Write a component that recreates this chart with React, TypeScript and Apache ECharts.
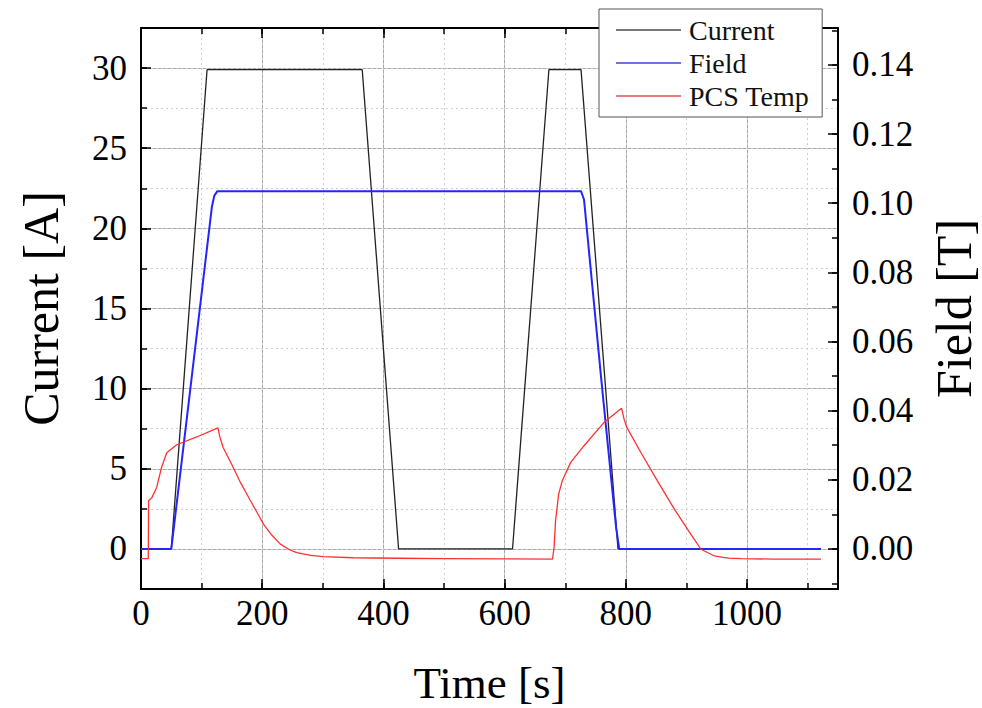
import React, { useEffect, useRef } from "react";
import * as echarts from "echarts";

// ---- Data ----
const seriesNames = ["Current", "Field", "PCS Temp"];

// Current [A] vs time [s]
const currentTime = [0, 50, 109, 365, 425, 613, 673, 726, 787, 1122];
const currentValues = [0, 0, 29.9, 29.9, 0, 0, 29.9, 29.9, 0, 0];

// Field [T] vs time [s]
const fieldTime = [0, 50, 83, 110, 117, 121, 126, 726, 731, 760, 784, 789, 1122];
const fieldValues = [0, 0, 0.0487, 0.0887, 0.099, 0.1022, 0.1035, 0.1035, 0.101, 0.048, 0.006, 0, 0];

// PCS Temp (plotted on the left scale) vs time [s]
const tempTime = [
  0, 12, 12.5, 18, 26, 34, 42.5, 49, 59, 93, 127, 130, 135.5, 150, 164, 180, 197, 202, 216, 230, 245, 257, 280, 301, 350, 423, 500, 600, 679,
  681.5, 684, 689, 695, 709, 731, 764, 793, 797, 801.6, 825, 852, 880, 907, 924, 946, 960, 970, 990, 1045, 1122,
];
const tempValues = [
  -0.6, -0.6, 3.0, 3.2, 3.85, 5.1, 6.0, 6.2, 6.5, 7.0, 7.55, 7.0, 6.33, 5.25, 4.15, 3.05, 1.9, 1.55, 0.85, 0.3, -0.05, -0.23, -0.4, -0.48, -0.55, -0.58, -0.6, -0.62, -0.64,
  0.08, 1.75, 3.4, 4.25, 5.4, 6.44, 7.9, 8.77, 8.1, 7.58, 6.0, 4.25, 2.48, 0.92, -0.02, -0.44, -0.53, -0.57, -0.6, -0.64, -0.64,
];

const seriesColors = ["#222222", "#2424ff", "#ff3030"];
const legendColors = ["#777777", "#6f6fe8", "#e87b7b"];

const FONT = '"Liberation Serif", "Times New Roman", serif';

const zip = (xs: number[], ys: number[]) => xs.map((x, i) => [x, ys[i]]);

export default function App() {
  const ref = useRef<HTMLDivElement>(null);

  useEffect(() => {
    if (!ref.current) return;
    const chart = echarts.init(ref.current, undefined, { renderer: "svg" });

    const axisLine = { show: true, onZero: false, lineStyle: { color: "#000", width: 2 } };
    const majorTick = { show: true, inside: true, length: 10, lineStyle: { color: "#000", width: 1.5 } };
    const minorTickAx = { show: true, inside: true, length: 6, lineStyle: { color: "#000", width: 1.5 } };
    const majorSplit = { show: true, lineStyle: { color: "#a9a9a9", width: 1, type: "solid" } };
    const minorSplit = { show: true, lineStyle: { color: "#cfcfcf", width: 1, type: [2, 3] } };
    const labelStyle = { color: "#000", fontFamily: FONT, fontSize: 35 };

    const xCommon = { type: "value", min: 0, max: 1150, gridIndex: 0 };
    const yLeft = { type: "value", min: -2.5, max: 32.5, position: "left" };
    const yRight = { type: "value", min: -0.0116, max: 0.1507, position: "right" };

    chart.setOption({
      animation: false,
      backgroundColor: "#fff",
      grid: { left: 141, right: 144, top: 28, bottom: 119, containLabel: false, outerBoundsMode: "none" },
      legend: {
        data: seriesNames.map((n, i) => ({ name: n, itemStyle: { color: legendColors[i] } })),
        icon: "rect",
        orient: "vertical",
        left: 599,
        top: 9,
        itemWidth: 65,
        itemHeight: 2,
        itemGap: 5,
        padding: [7, 13, 7, 17],
        backgroundColor: "#fff",
        borderColor: "#555",
        borderWidth: 1,
        borderRadius: 0,
        textStyle: { color: "#111", fontFamily: FONT, fontSize: 28, padding: [0, 0, 0, 3] },
        z: 10,
      },
      xAxis: [
        {
          ...xCommon,
          position: "bottom",
          interval: 200,
          axisLine,
          axisTick: majorTick,
          axisLabel: { ...labelStyle, margin: 7, showMaxLabel: false, formatter: (v: number) => String(v) },
          splitLine: majorSplit,
          name: "Time [s]",
          nameLocation: "middle",
          nameGap: 71,
          nameTextStyle: { color: "#000", fontFamily: FONT, fontSize: 45 },
        },
        {
          ...xCommon,
          position: "bottom",
          interval: 100,
          axisLine: { show: false, onZero: false },
          axisTick: minorTickAx,
          axisLabel: { show: false },
          splitLine: minorSplit,
        },
        {
          ...xCommon,
          position: "top",
          interval: 200,
          axisLine,
          axisTick: majorTick,
          axisLabel: { show: false },
          splitLine: { show: false },
        },
        {
          ...xCommon,
          position: "top",
          interval: 100,
          axisLine: { show: false, onZero: false },
          axisTick: minorTickAx,
          axisLabel: { show: false },
          splitLine: { show: false },
        },
      ],
      yAxis: [
        {
          ...yLeft,
          splitNumber: 7,
          minInterval: 5,
          maxInterval: 5,
          axisLine,
          axisTick: majorTick,
          axisLabel: { ...labelStyle, margin: 14, showMinLabel: false, showMaxLabel: false },
          splitLine: majorSplit,
          name: "Current [A]",
          nameLocation: "middle",
          nameGap: 75,
          nameTextStyle: { color: "#000", fontFamily: FONT, fontSize: 50 },
        },
        {
          ...yLeft,
          interval: 2.5,
          axisLine: { show: false, onZero: false },
          axisTick: minorTickAx,
          axisLabel: { show: false },
          splitLine: minorSplit,
        },
        {
          ...yRight,
          splitNumber: 8,
          minInterval: 0.02,
          maxInterval: 0.02,
          axisLine,
          axisTick: majorTick,
          axisLabel: {
            ...labelStyle,
            margin: 14,
            showMinLabel: false,
            showMaxLabel: false,
            formatter: (v: number) => v.toFixed(2),
          },
          splitLine: { show: false },
          name: "Field [T]",
          nameLocation: "middle",
          nameGap: 91,
          nameTextStyle: { color: "#000", fontFamily: FONT, fontSize: 50 },
        },
        {
          ...yRight,
          splitNumber: 16,
          minInterval: 0.01,
          maxInterval: 0.01,
          axisLine: { show: false, onZero: false },
          axisTick: minorTickAx,
          axisLabel: { show: false },
          splitLine: { show: false },
        },
      ],
      series: [
        {
          name: seriesNames[0],
          type: "line",
          xAxisIndex: 0,
          yAxisIndex: 0,
          data: zip(currentTime, currentValues),
          symbol: "none",
          color: seriesColors[0],
          lineStyle: { color: seriesColors[0], width: 1.3 },
        },
        {
          name: seriesNames[1],
          type: "line",
          xAxisIndex: 0,
          yAxisIndex: 2,
          data: zip(fieldTime, fieldValues),
          symbol: "none",
          color: seriesColors[1],
          lineStyle: { color: seriesColors[1], width: 2 },
        },
        {
          name: seriesNames[2],
          type: "line",
          xAxisIndex: 0,
          yAxisIndex: 0,
          data: zip(tempTime, tempValues),
          symbol: "none",
          color: seriesColors[2],
          lineStyle: { color: seriesColors[2], width: 1.3 },
        },
      ],
    });

    return () => chart.dispose();
  }, []);

  return <div ref={ref} style={{ position: "fixed", left: 0, top: 0, width: 982, height: 708 }} />;
}
